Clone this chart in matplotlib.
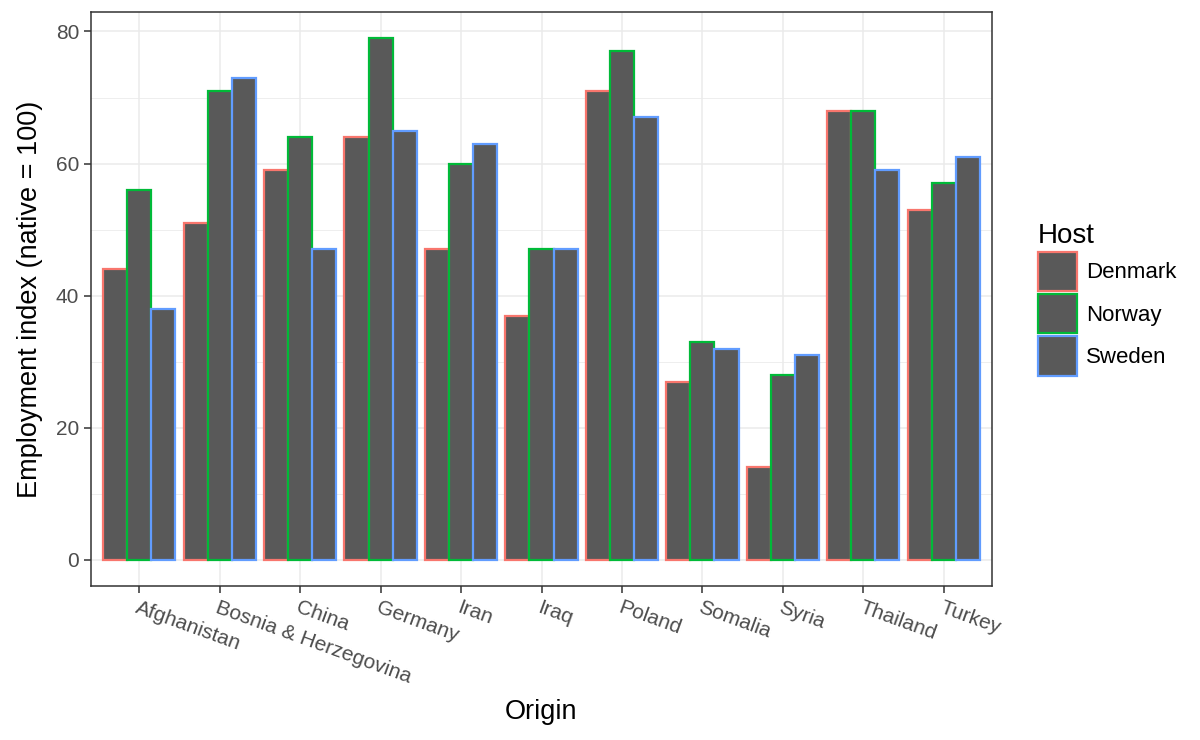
import numpy as np
import matplotlib
matplotlib.use("Agg")
from matplotlib import pyplot as plt
from matplotlib.patches import Patch

plt.rcParams['font.family'] = ['Liberation Sans', 'DejaVu Sans']

origins = ["Afghanistan", "Bosnia & Herzegovina", "China", "Germany", "Iran", "Iraq",
           "Poland", "Somalia", "Syria", "Thailand", "Turkey"]
hosts = ["Denmark", "Norway", "Sweden"]
denmark = [44, 51, 59, 64, 47, 37, 71, 27, 14, 68, 53]
norway = [56, 71, 64, 79, 60, 47, 77, 33, 28, 68, 57]
sweden = [38, 73, 47, 65, 63, 47, 67, 32, 31, 59, 61]
colors = ["#F8766D", "#00BA38", "#619CFF"]

fig = plt.figure(figsize=(12, 7.4), dpi=100)
ax = fig.add_axes([91/1200, 1 - 586/740, 901/1200, 574/740])

x = np.arange(1, len(origins) + 1)
w = 0.3
for k, vals in enumerate([denmark, norway, sweden]):
    ax.bar(x + (k - 1) * w, vals, width=w, color="#595959",
           edgecolor=colors[k], linewidth=1.6, zorder=3)

ax.set_xlim(0.4, 11.6)
ax.set_ylim(-3.95, 82.95)
ax.set_yticks([0, 20, 40, 60, 80])
ax.set_yticks([10, 30, 50, 70], minor=True)
ax.set_xticks(x)
ax.set_xticklabels(origins, rotation=-20, ha="left", va="top",
                   rotation_mode="anchor", fontsize=15, color="#4D4D4D")
ax.tick_params(axis="y", labelsize=15, labelcolor="#4D4D4D")
ax.tick_params(which="major", length=5, width=1.1, color="#333333")
ax.tick_params(which="minor", length=0)
ax.grid(which="major", color="#EBEBEB", linewidth=1.1, zorder=0)
ax.grid(which="minor", axis="y", color="#EBEBEB", linewidth=0.6, zorder=0)
ax.set_axisbelow(True)
for s in ax.spines.values():
    s.set_color("#333333")
    s.set_linewidth(1.1)

ax.set_xlabel("Origin", fontsize=19.5, va="center")
ax.xaxis.set_label_coords(0.5, (586 - 712) / 574)
ax.set_ylabel("Employment index (native = 100)", fontsize=19.5, va="center")
ax.yaxis.set_label_coords((30 - 91) / 901, 0.5)

handles = [Patch(facecolor="#595959", edgecolor=c, linewidth=1.6) for c in colors]
leg = fig.legend(handles, hosts, title="Host", loc="upper left",
                 bbox_to_anchor=(1029/1200, 1 - 214/740), frameon=False,
                 fontsize=16, title_fontsize=20, handlelength=1.75, handleheight=2.35,
                 labelspacing=0.13, handletextpad=0.4, borderaxespad=0)
leg._legend_box.align = "left"

fig.savefig("out.png", dpi=100)
